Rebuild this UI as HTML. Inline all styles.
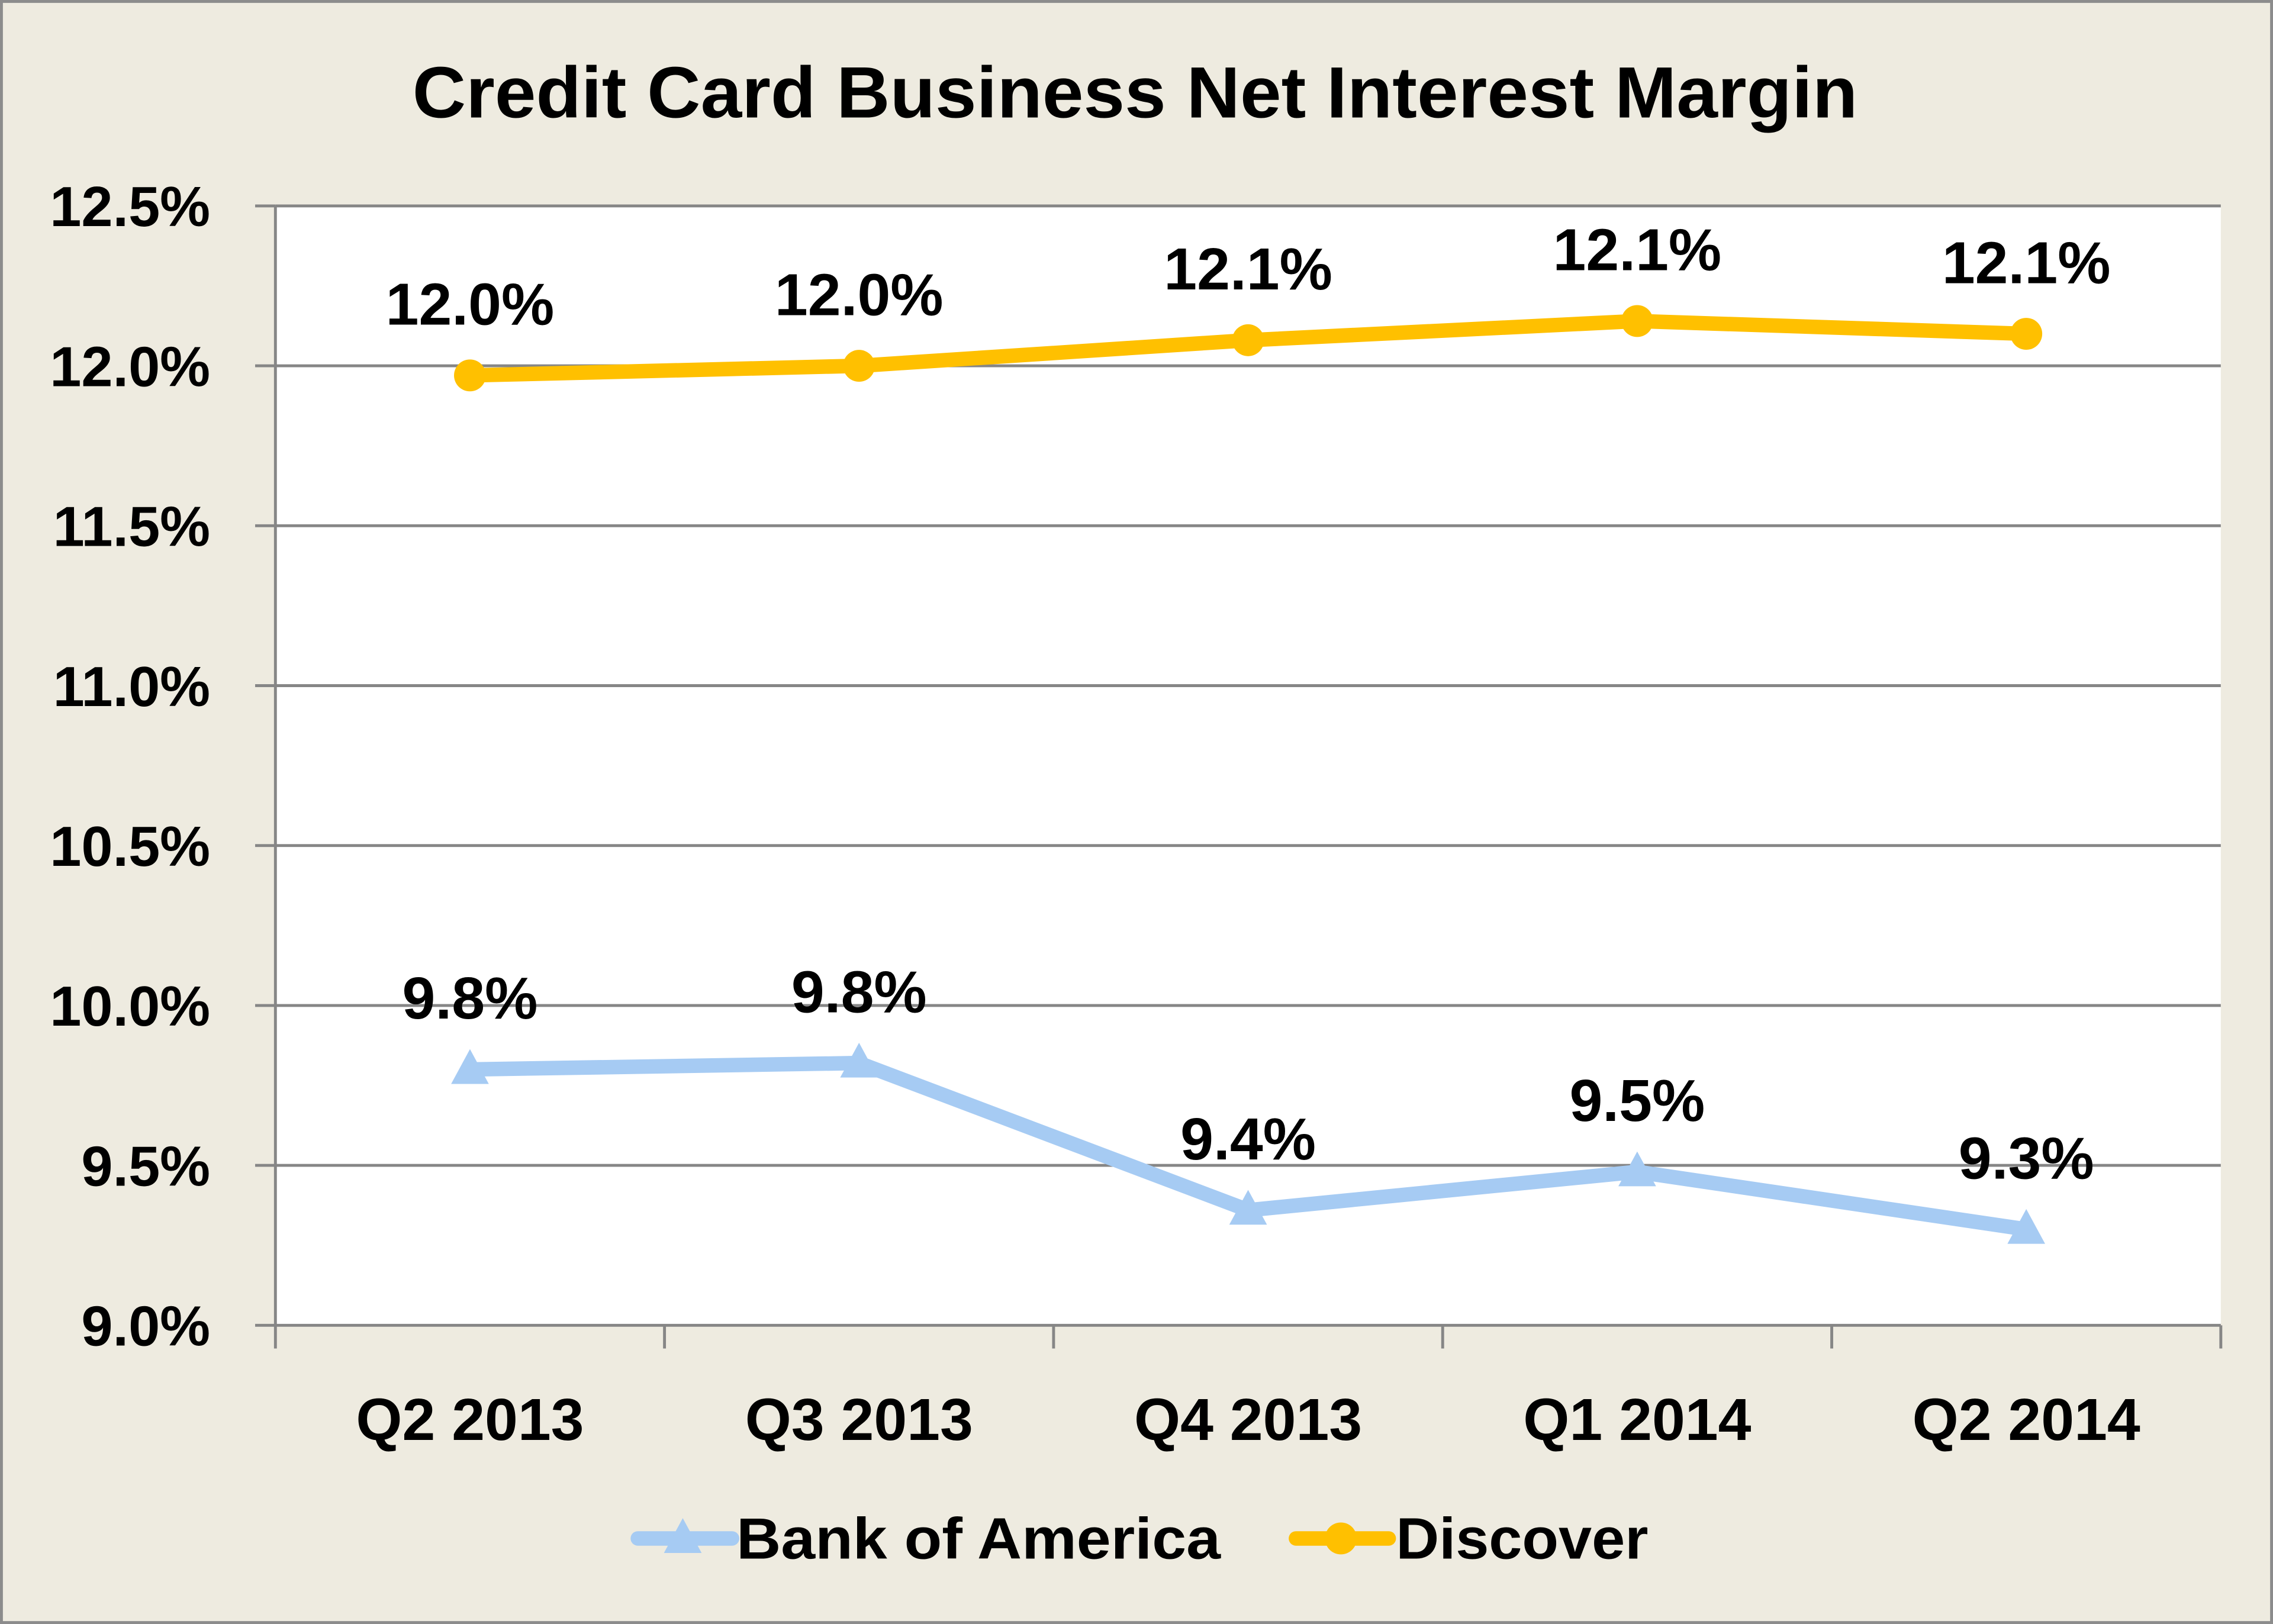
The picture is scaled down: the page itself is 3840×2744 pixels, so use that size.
<!DOCTYPE html>
<html><head><meta charset="utf-8"><style>
html,body{margin:0;padding:0;background:#EEEBE0}
svg{display:block}
text{font-family:"Liberation Sans",Arial,sans-serif;font-weight:bold;fill:#000}
</style></head><body>
<svg id="chart" width="3840" height="2744" viewBox="0 0 1568 1120" preserveAspectRatio="none" xmlns="http://www.w3.org/2000/svg">
<rect x="1" y="1" width="1566" height="1118" fill="#EEEBE0" stroke="#8c8c8c" stroke-width="2"/>
<text x="783" y="81" font-size="50" text-anchor="middle" textLength="997" lengthAdjust="spacingAndGlyphs">Credit Card Business Net Interest Margin</text>
<rect x="190" y="142" width="1342" height="772" fill="#fff"/>
<g id="grid"></g><g id="axes"></g><g id="series"></g><g id="labels"></g>
<g>
<g>
<line x1="440" y1="1061" x2="505" y2="1061" stroke="#A6CBF3" stroke-width="10" stroke-linecap="round"/>
<polygon points="471,1047 484,1071 458,1071" fill="#A6CBF3"/>
<text x="508" y="1075" font-size="40" textLength="334" lengthAdjust="spacingAndGlyphs">Bank of America</text></g>
<g>
<line x1="894" y1="1061" x2="958" y2="1061" stroke="#FFC000" stroke-width="10" stroke-linecap="round"/>
<circle cx="925" cy="1061" r="11" fill="#FFC000"/>
<text x="963" y="1075" font-size="40" textLength="174" lengthAdjust="spacingAndGlyphs">Discover</text></g>
</g>
</svg>
<script>
const categories=["Q2 2013","Q3 2013","Q4 2013","Q1 2014","Q2 2014"];
const discoverValues=[11.97,12.0,12.08,12.14,12.10];
const discoverLabels=["12.0%","12.0%","12.1%","12.1%","12.1%"];
const bofaValues=[9.80,9.82,9.36,9.48,9.30];
const bofaLabels=["9.8%","9.8%","9.4%","9.5%","9.3%"];
const yTicks=[9.0,9.5,10.0,10.5,11.0,11.5,12.0,12.5];
const yTickLabels=["9.0%","9.5%","10.0%","10.5%","11.0%","11.5%","12.0%","12.5%"];

const NS="http://www.w3.org/2000/svg";
const X0=190,X1=1532,Y0=914,Y1=142,YMIN=9.0,YMAX=12.5;
const bw=(X1-X0)/categories.length;
const xs=i=>X0+bw*(i+0.5);
const ys=v=>Y0-(v-YMIN)/(YMAX-YMIN)*(Y0-Y1);
function mk(tag,attrs,parent){const e=document.createElementNS(NS,tag);for(const k in attrs)e.setAttribute(k,attrs[k]);parent.appendChild(e);return e;}
const grid=document.getElementById('grid'),axes=document.getElementById('axes'),ser=document.getElementById('series'),lab=document.getElementById('labels');
yTicks.forEach((t,i)=>{
  const y=ys(t);
  if(i>0){const g=mk('line',{x1:X0,x2:X1,y1:y,y2:y,stroke:'#868686','stroke-width':2},grid);
  
  }
  const tk=mk('line',{x1:X0-14,x2:X0,y1:y,y2:y,stroke:'#868686','stroke-width':2},axes);
  
  
  const tx=mk('text',{x:145,y:y+14,'font-size':39,'text-anchor':'end'},axes);
  tx.textContent=yTickLabels[i];
  
  
});
const ya=mk('line',{x1:X0,x2:X0,y1:Y1,y2:Y0,stroke:'#868686','stroke-width':2},axes);


const xa=mk('line',{x1:X0,x2:X1,y1:Y0,y2:Y0,stroke:'#868686','stroke-width':2},axes);


for(let i=0;i<=categories.length;i++){
  const x=X0+bw*i;
  const t=mk('line',{x1:x,x2:x,y1:Y0,y2:Y0+16,stroke:'#868686','stroke-width':2},axes);
  
  
}
categories.forEach((c,i)=>{
  const t=mk('text',{x:xs(i),y:993,'font-size':41,'text-anchor':'middle'},axes);
  t.textContent=c;
  
  
});
function series(vals,labels,color,marker,name){
  const pl=mk('polyline',{points:vals.map((v,i)=>xs(i)+','+ys(v)).join(' '),fill:'none',stroke:color,'stroke-width':10,'stroke-linejoin':'round'},ser);
  
  
  vals.forEach((v,i)=>{
    const x=xs(i),y=ys(v);let m;
    if(marker==='circle')m=mk('circle',{cx:x,cy:y,r:11,fill:color},ser);
    else m=mk('polygon',{points:`${x},${y-14} ${x+13},${y+10} ${x-13},${y+10}`,fill:color},ser);
    
    
    const t=mk('text',{x:x,y:y-35,'font-size':41,'text-anchor':'middle'},lab);
    t.textContent=labels[i];
    
    
  });
}
series(bofaValues,bofaLabels,'#A6CBF3','triangle','bank-of-america');
series(discoverValues,discoverLabels,'#FFC000','circle','discover');
</script>
</body></html>
